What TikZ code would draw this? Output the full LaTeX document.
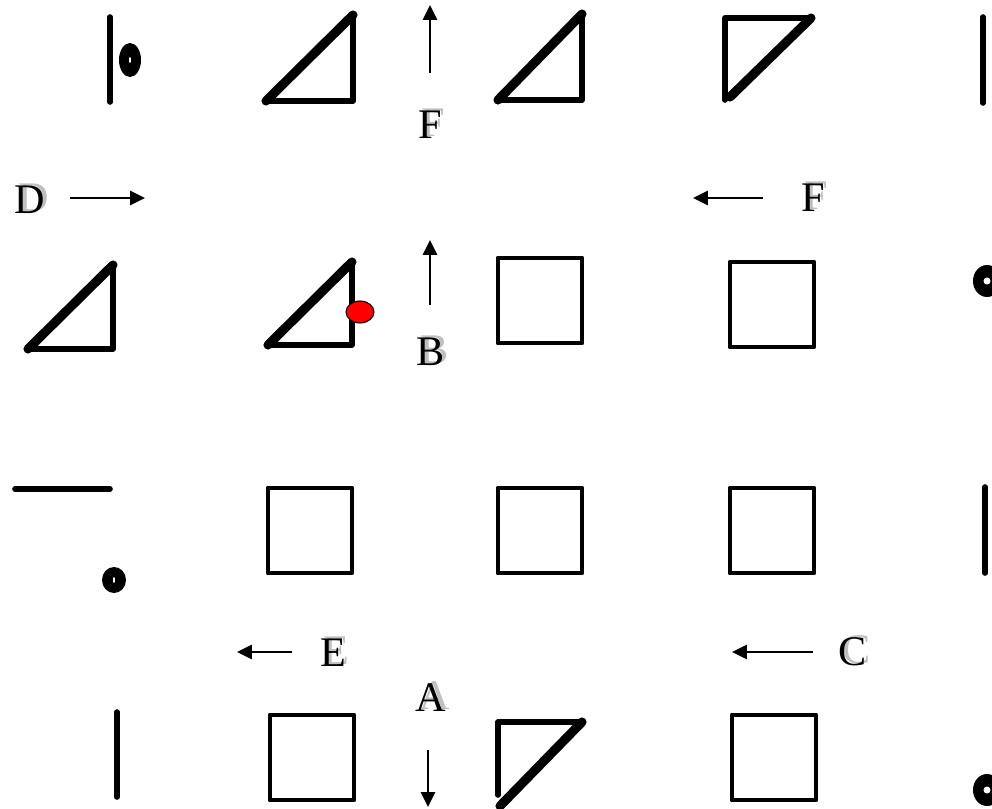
\documentclass[tikz,border=0pt]{standalone}
\usepackage{fontspec}
\setmainfont{Liberation Serif}
\usetikzlibrary{arrows.meta}

\tikzset{
  side/.style={line width=3.2pt,line cap=round,line join=round},
  hyp/.style={line width=5.2pt,line cap=round},
  sq/.style={line width=2.8pt,line join=round},
  mv/.style={line width=1.5pt,-{Triangle[length=8.5pt,width=8pt]}},
  lbl/.style={font=\fontsize{24}{28}\selectfont,inner sep=0pt},
}
% letter with a grey shadow behind it
\newcommand{\shlabel}[3]{%
  \node[lbl,text=black!25,xshift=2pt,yshift=1.5pt] at (#2) {#3};
  \node[lbl] (#1) at (#2) {#3};}

\begin{document}
\begin{tikzpicture}[x=0.02cm,y=-0.02cm]
\useasboundingbox (0,0) rectangle (992,809);
\clip (0,0) rectangle (992,809);

% single strokes
\draw[side] (110,17) -- (110,102);
\draw[side] (983,17) -- (983,103);
\draw[side] (15,489) -- (110,489);
\draw[side] (985,487) -- (985,573);
\draw[side] (117,712) -- (117,797);

% rings
\fill (130,60) ellipse [x radius=11, y radius=17];
\fill[white] (130,60) ellipse [x radius=1, y radius=3];
\fill (114,580) ellipse [x radius=12, y radius=13];
\fill[white] (114,580) ellipse [x radius=1, y radius=3];
\fill (987,281) ellipse [x radius=14, y radius=16];
\fill[white] (987,281) circle [radius=3.5];
\fill (987,790) ellipse [x radius=14, y radius=16];
\fill[white] (987,790) circle [radius=3.5];

% triangles
\draw[side] (266,101) -- (353,101) -- (353,15);
\draw[hyp] (266,101) -- (353,15);
\draw[side] (498,100) -- (582,100) -- (582,14);
\draw[hyp] (498,100) -- (582,14);
\draw[side] (811,18) -- (725,18) -- (725,100);
\draw[hyp] (811,18) -- (730,97);
\draw[side] (28,349) -- (113,349) -- (113,265);
\draw[hyp] (28,349) -- (113,265);
\draw[side] (268,345) -- (352,345) -- (352,262);
\draw[hyp] (268,345) -- (352,262);
\draw[side] (498,795) -- (498,722) -- (582,722);
\draw[hyp] (582,722) -- (500,806);

% red marker
\filldraw[fill=red,draw=black,line width=0.6pt] (360,312) ellipse [x radius=14, y radius=11];

% squares
\foreach \x/\y in {498/258,730/262,268/488,498/488,730/488,270/715,732/715}
    \draw[sq] (\x,\y) rectangle (\x+84,\y+85);

% arrows
\draw[mv] (430,73) -- (430,5);
\draw[mv] (430,305) -- (430,240);
\draw[mv] (70,198) -- (145,198);
\draw[mv] (763,198) -- (693,198);
\draw[mv] (292,652) -- (237,652);
\draw[mv] (813,652) -- (732,652);
\draw[mv] (428,750) -- (428,807);

% letters
\shlabel{f1}{430,125}{F}
\shlabel{d}{30,200}{D}
\shlabel{f2}{813,198}{F}
\shlabel{b}{431,352}{B}
\shlabel{e}{333,653}{E}
\shlabel{c}{853,652}{C}
\shlabel{a}{431,698}{A}
\end{tikzpicture}
\end{document}
